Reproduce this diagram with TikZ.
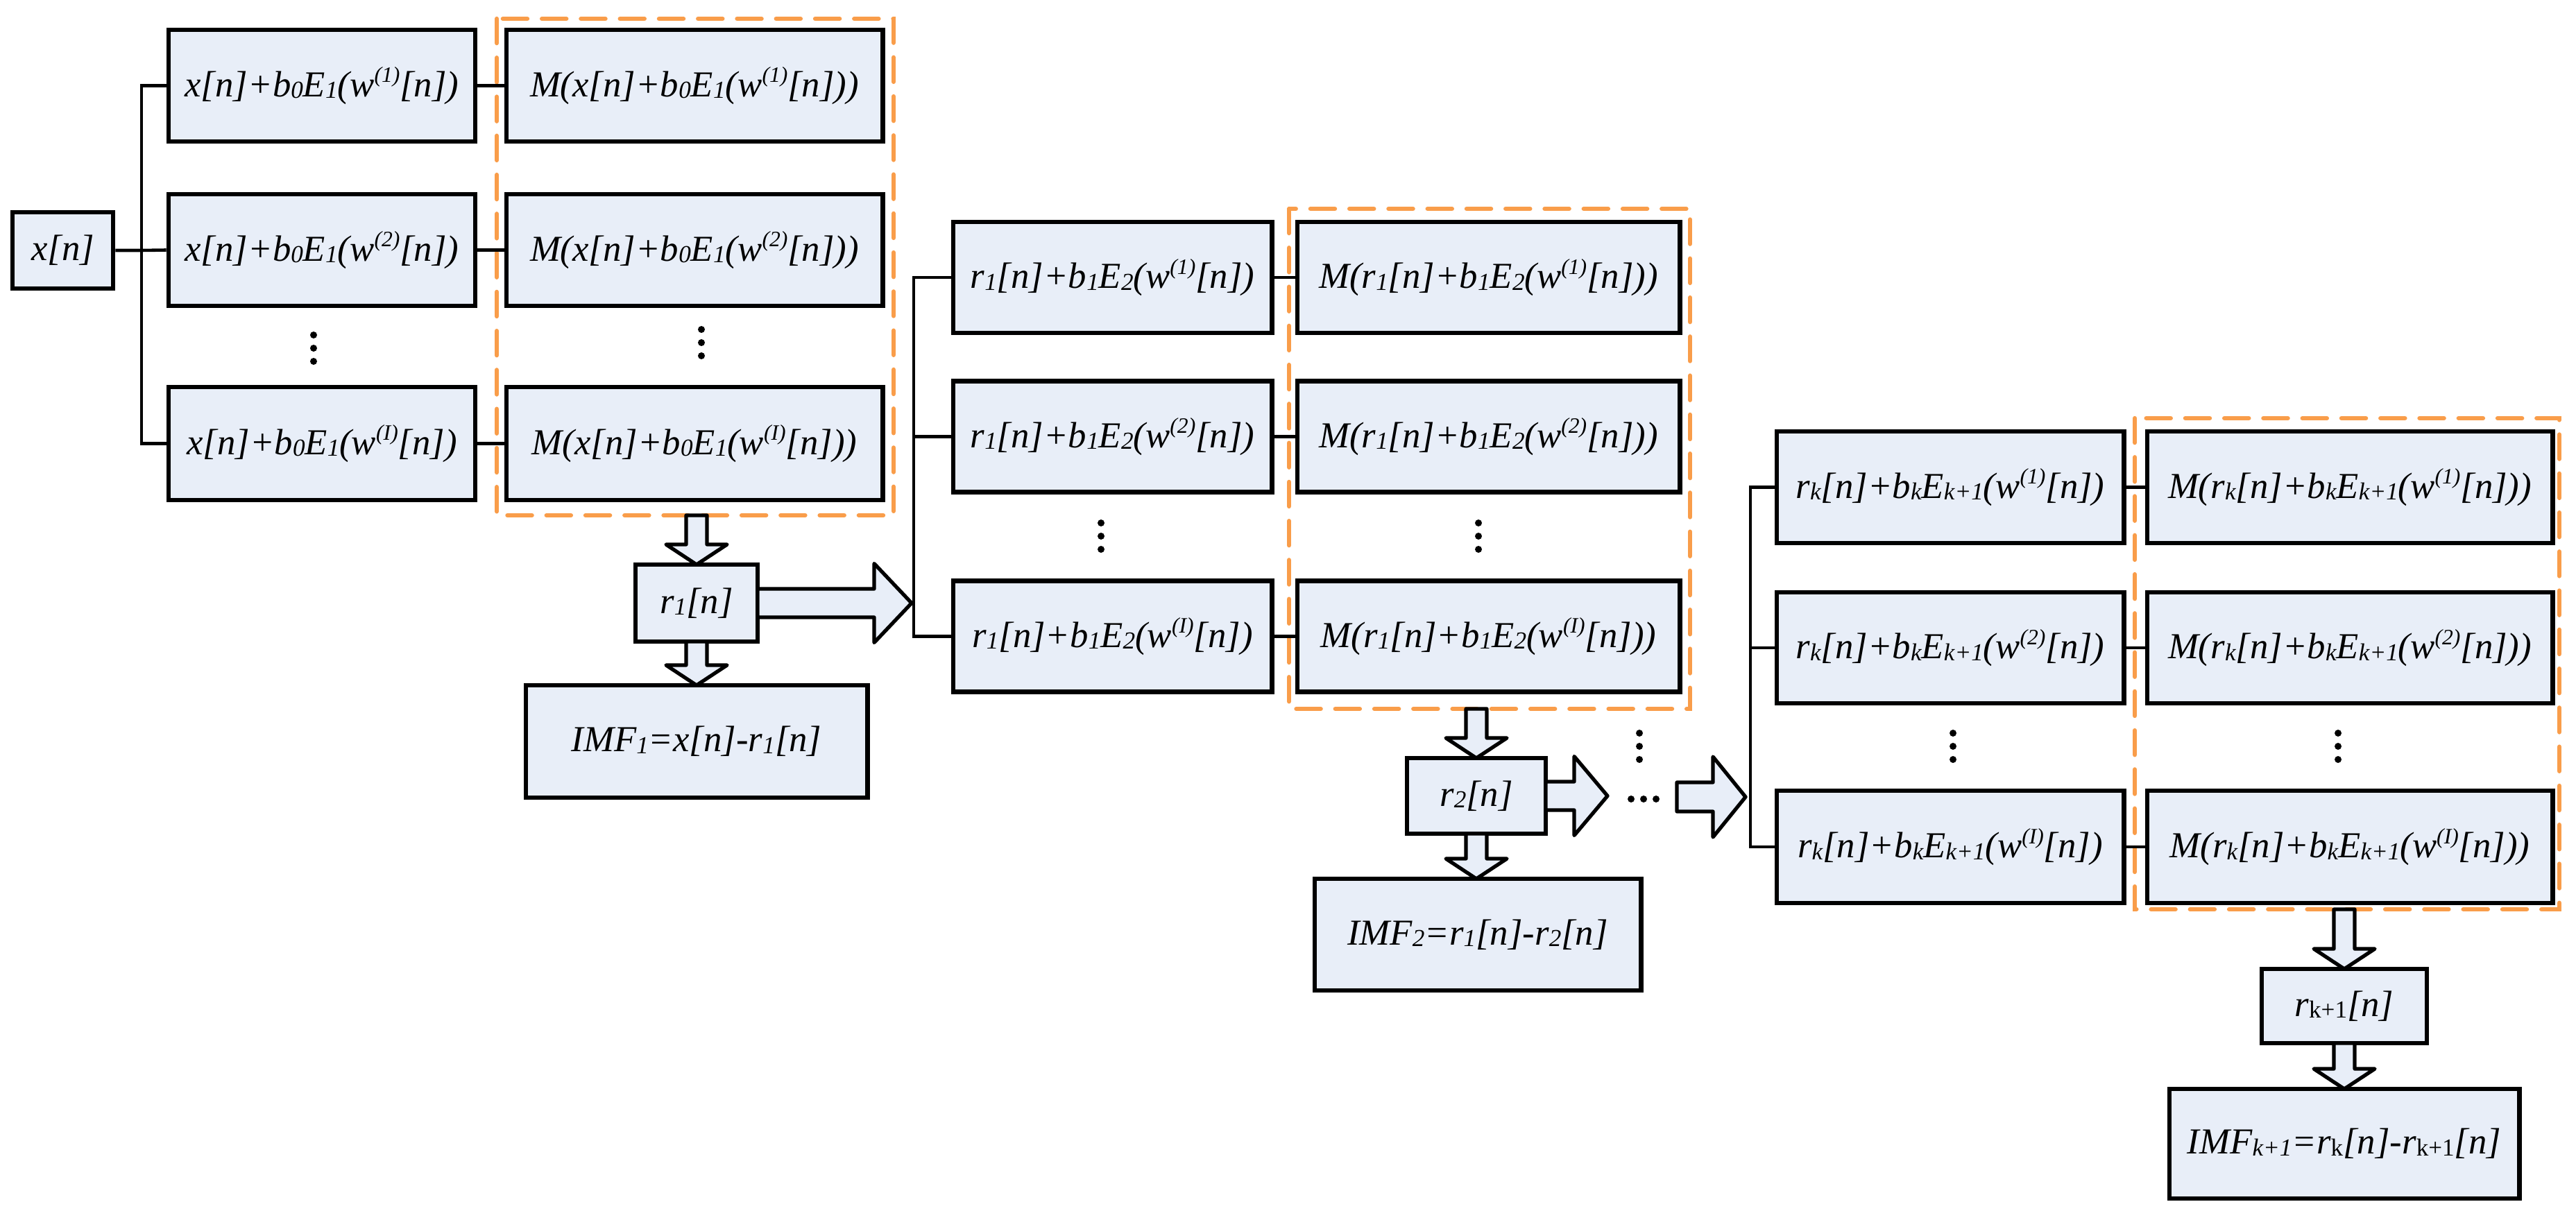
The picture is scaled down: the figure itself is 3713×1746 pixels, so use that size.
\documentclass[tikz,border=0pt]{standalone}
\usepackage{fontspec}
\setmainfont{Liberation Serif}
\definecolor{boxfill}{HTML}{E8EEF8}
\definecolor{orng}{HTML}{F99D4A}
\newcommand\lo[1]{\raisebox{-0.1ex}{\fontsize{10pt}{10pt}\selectfont #1}}
\newcommand\hi[1]{\raisebox{0.85ex}{\fontsize{9pt}{9pt}\selectfont #1}}
\newcommand\darr[3]{\draw[barr] ({#1-15},#2) -- ({#1-15},{#3-29}) -- ({#1-44},{#3-29}) -- (#1,#3) -- ({#1+44},{#3-29}) -- ({#1+15},{#3-29}) -- ({#1+15},#2) -- cycle;}
\newcommand\rarr[6]{\draw[barr] (#1,{#3-#4}) -- ({#2-#6},{#3-#4}) -- ({#2-#6},{#3-#5}) -- (#2,#3) -- ({#2-#6},{#3+#5}) -- ({#2-#6},{#3+#4}) -- (#1,{#3+#4}) -- cycle;}
\newcommand\vdts[2]{\foreach \d in {-19,0,19} \fill ({#1},{#2+\d}) circle (5);}
\begin{document}
\begin{tikzpicture}[x=0.01cm,y=-0.01cm,
  box/.style={draw,line width=1.9pt,fill=boxfill,inner sep=0pt,font=\fontsize{15pt}{18pt}\selectfont\itshape},
  con/.style={line width=1.3pt},
  barr/.style={draw,line width=1.5pt,fill=boxfill,line join=round},
  grp/.style={draw=orng,line width=1.8pt,dash pattern=on 10pt off 6pt,line cap=round}]
\useasboundingbox (0,0) rectangle (3713,1746);
% section 1
\draw[grp] (716,27) rectangle (1288,743);
\node[box,minimum width=14.5mm,minimum height=11mm] (xn) at (90.5,361) {x[n]};
\node[box,minimum width=44.2mm,minimum height=16.1mm] (a1) at (464,123.5) {x[n]+b\lo{0}E\lo{1}(w\hi{(1)}[n])};
\node[box,minimum width=44.2mm,minimum height=16.1mm] (a2) at (464,360.5) {x[n]+b\lo{0}E\lo{1}(w\hi{(2)}[n])};
\node[box,minimum width=44.2mm,minimum height=16.3mm] (a4) at (464,639.5) {x[n]+b\lo{0}E\lo{1}(w\hi{(I)}[n])};
\node[box,minimum width=54.2mm,minimum height=16.1mm] (m1) at (1001,123.5) {M(x[n]+b\lo{0}E\lo{1}(w\hi{(1)}[n]))};
\node[box,minimum width=54.2mm,minimum height=16.1mm] (m2) at (1001,360.5) {M(x[n]+b\lo{0}E\lo{1}(w\hi{(2)}[n]))};
\node[box,minimum width=54.2mm,minimum height=16.3mm] (m4) at (1001,639.5) {M(x[n]+b\lo{0}E\lo{1}(w\hi{(I)}[n]))};
\node[box,minimum width=17.6mm,minimum height=11.1mm] (r1) at (1004,869.5) {r\lo{1}[n]};
\node[box,minimum width=49.2mm,minimum height=16.2mm] (f1) at (1004,1069) {IMF\lo{1}=x[n]-r\lo{1}[n]};
\coordinate (s1) at (204,361);
\draw[con] (xn.east) -- (s1) -- (a2.west);
\draw[con] (a1.west) -| (s1) |- (a4.west);
\foreach \i in {1,2,4} \draw[con] (a\i.east) -- (m\i.west);
\vdts{452}{502} \vdts{1011}{494}
\darr{1004}{743}{814} \darr{1004}{925}{988}
\rarr{1092}{1314}{869.5}{20.5}{57}{54}
% section 2
\draw[grp] (1858,301) rectangle (2436,1022);
\node[box,minimum width=45.9mm,minimum height=16mm] (c1) at (1603.5,400) {r\lo{1}[n]+b\lo{1}E\lo{2}(w\hi{(1)}[n])};
\node[box,minimum width=45.9mm,minimum height=16mm] (c2) at (1603.5,629.5) {r\lo{1}[n]+b\lo{1}E\lo{2}(w\hi{(2)}[n])};
\node[box,minimum width=45.9mm,minimum height=16mm] (c4) at (1603.5,917.5) {r\lo{1}[n]+b\lo{1}E\lo{2}(w\hi{(I)}[n])};
\node[box,minimum width=55.1mm,minimum height=16mm] (n1) at (2145.5,400) {M(r\lo{1}[n]+b\lo{1}E\lo{2}(w\hi{(1)}[n]))};
\node[box,minimum width=55.1mm,minimum height=16mm] (n2) at (2145.5,629.5) {M(r\lo{1}[n]+b\lo{1}E\lo{2}(w\hi{(2)}[n]))};
\node[box,minimum width=55.1mm,minimum height=16mm] (n4) at (2145.5,917.5) {M(r\lo{1}[n]+b\lo{1}E\lo{2}(w\hi{(I)}[n]))};
\node[box,minimum width=20mm,minimum height=10.9mm] (r2) at (2128,1147.5) {r\lo{2}[n]};
\node[box,minimum width=47mm,minimum height=16.1mm] (f2) at (2130,1347.5) {IMF\lo{2}=r\lo{1}[n]-r\lo{2}[n]};
\coordinate (s2) at (1317,869.5);
\draw[con] (c1.west) -| (s2) |- (c4.west);
\draw[con] (c2.west) -- (c2.west -| s2);
\foreach \i in {1,2,4} \draw[con] (c\i.east) -- (n\i.west);
\vdts{1587}{773} \vdts{2131}{773}
\darr{2128}{1022}{1093} \darr{2128}{1202}{1267}
\rarr{2228}{2317}{1147.5}{20.5}{57}{48}
\vdts{2363}{1076}
\foreach \d in {-18,0,18} \fill ({2369+\d},1152) circle (5);
\rarr{2417}{2516}{1149}{21}{58}{47}
% section k
\draw[grp] (3077,603) rectangle (3689,1311);
\node[box,minimum width=50mm,minimum height=16.1mm] (k1) at (2811,702.5) {r\lo{k}[n]+b\lo{k}E\lo{k+1}(w\hi{(1)}[n])};
\node[box,minimum width=50mm,minimum height=16mm] (k2) at (2811,934) {r\lo{k}[n]+b\lo{k}E\lo{k+1}(w\hi{(2)}[n])};
\node[box,minimum width=50mm,minimum height=16.2mm] (k4) at (2811,1221) {r\lo{k}[n]+b\lo{k}E\lo{k+1}(w\hi{(I)}[n])};
\node[box,minimum width=58.4mm,minimum height=16.1mm] (q1) at (3387,702.5) {M(r\lo{k}[n]+b\lo{k}E\lo{k+1}(w\hi{(1)}[n]))};
\node[box,minimum width=58.4mm,minimum height=16mm] (q2) at (3387,934) {M(r\lo{k}[n]+b\lo{k}E\lo{k+1}(w\hi{(2)}[n]))};
\node[box,minimum width=58.4mm,minimum height=16.2mm] (q4) at (3387,1221) {M(r\lo{k}[n]+b\lo{k}E\lo{k+1}(w\hi{(I)}[n]))};
\node[box,minimum width=23.8mm,minimum height=10.7mm] (rk) at (3379,1450.5) {r\lo{\upshape k+1}[n]};
\node[box,minimum width=50.4mm,minimum height=15.8mm] (fk) at (3379,1649) {IMF\lo{k+1}=r\lo{\upshape k}[n]-r\lo{\upshape k+1}[n]};
\coordinate (sk) at (2523,1149);
\draw[con] (k1.west) -| (sk) |- (k4.west);
\draw[con] (k2.west) -- (k2.west -| sk);
\foreach \i in {1,2,4} \draw[con] (k\i.east) -- (q\i.west);
\vdts{2815}{1076} \vdts{3370}{1076}
\darr{3379}{1311}{1397} \darr{3379}{1504}{1570}
\end{tikzpicture}
\end{document}
